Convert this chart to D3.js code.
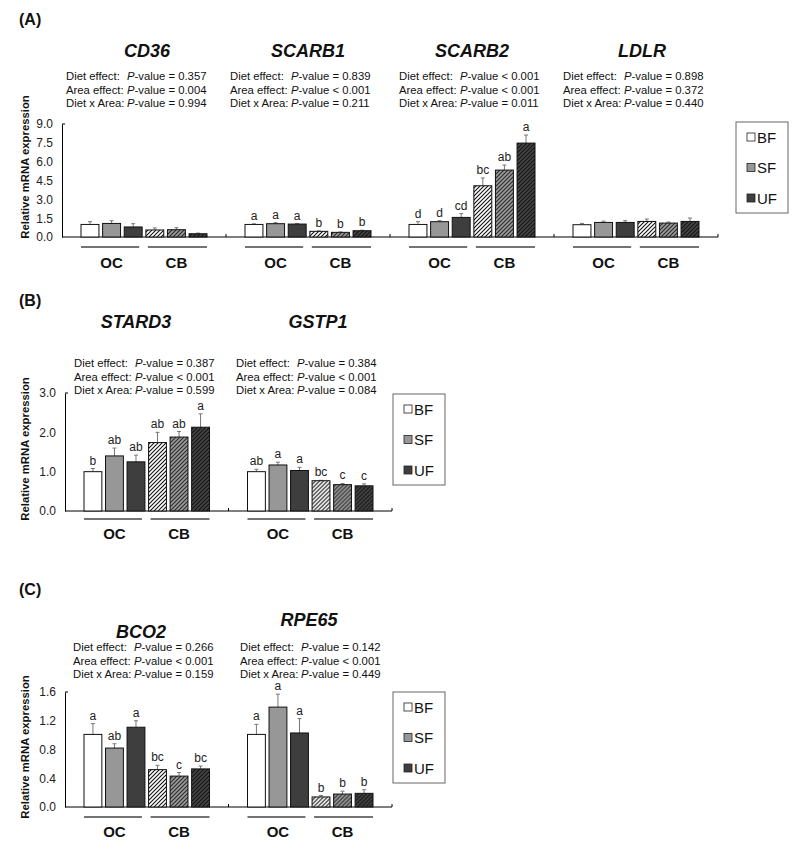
<!DOCTYPE html>
<html><head><meta charset="utf-8">
<script src="https://cdn.jsdelivr.net/npm/d3@7"></script>
<style>
html,body{margin:0;padding:0;background:#fff;}
text{font-family:"Liberation Sans",Arial,sans-serif;}
</style></head>
<body>
<svg id="chart" width="800" height="850"></svg>
<script>
// ---------- DATA ----------
const diets = ["BF","SF","UF"];
const areas = ["OC","CB"];
const effectLabels = ["Diet effect:","Area effect:","Diet x Area:"];

const genesA = ["CD36","SCARB1","SCARB2","LDLR"];
const meansA = [[1.00,1.08,0.80,0.56,0.58,0.26],[1.00,1.06,1.03,0.45,0.37,0.50],[1.00,1.22,1.56,4.08,5.33,7.48],[0.98,1.16,1.16,1.24,1.11,1.24]];
const errsA = [[0.22,0.22,0.26,0.16,0.16,0.05],[0.05,0.08,0.04,0.04,0.03,0.04],[0.22,0.08,0.30,0.62,0.40,0.64],[0.10,0.10,0.14,0.19,0.08,0.27]];
const lettersA = [["","","","","",""],["a","a","a","b","b","b"],["d","d","cd","bc","ab","a"],["","","","","",""]];
const pvalsA = [["= 0.357","= 0.004","= 0.994"],["= 0.839","< 0.001","= 0.211"],["< 0.001","< 0.001","= 0.011"],["= 0.898","= 0.372","= 0.440"]];
const ticksA = [0,1.5,3,4.5,6,7.5,9];

const genesB = ["STARD3","GSTP1"];
const meansB = [[1.00,1.40,1.25,1.74,1.88,2.13],[1.00,1.17,1.03,0.77,0.67,0.64]];
const errsB = [[0.08,0.20,0.17,0.26,0.14,0.34],[0.06,0.07,0.08,0.01,0.03,0.05]];
const lettersB = [["b","ab","ab","ab","ab","a"],["ab","a","a","bc","c","c"]];
const pvalsB = [["= 0.387","< 0.001","= 0.599"],["= 0.384","< 0.001","= 0.084"]];
const ticksB = [0,1,2,3];

const genesC = ["BCO2","RPE65"];
const meansC = [[1.01,0.82,1.11,0.52,0.43,0.53],[1.01,1.39,1.03,0.14,0.18,0.19]];
const errsC = [[0.15,0.06,0.09,0.06,0.05,0.04],[0.14,0.18,0.20,0.02,0.04,0.05]];
const lettersC = [["a","ab","a","bc","c","bc"],["a","a","a","b","b","b"]];
const pvalsC = [["= 0.266","< 0.001","= 0.159"],["= 0.142","< 0.001","= 0.449"]];
const ticksC = [0,0.4,0.8,1.2,1.6];

// ---------- DRAWING ----------
const svg = d3.select("#chart");
const defs = svg.append("defs");
const solid = {BF:"#ffffff", SF:"#979797", UF:"#3e3e3e"};
const hatchBg = {BF:"#ffffff", SF:"#9a9a9a", UF:"#454545"};
const hatchLn = {BF:"#111", SF:"#2a2a2a", UF:"#111"};
diets.forEach(d=>{
  const p = defs.append("pattern").attr("id","h"+d).attr("patternUnits","userSpaceOnUse")
    .attr("width",4).attr("height",4);
  p.append("rect").attr("width",4).attr("height",4).attr("fill",hatchBg[d]);
  p.append("path").attr("d","M-1,1 l2,-2 M0,4 l4,-4 M3,5 l2,-2")
    .attr("stroke",hatchLn[d]).attr("stroke-width",1.1);
});

const bars = [];
areas.forEach(a=>diets.forEach(d=>bars.push({area:a,diet:d})));

function panel(cfg){
  const {genes,means,errs,letters,pvals,ticks,x0,catW,yBase,yTop,titles,pText,pBase,underY,labY,yLabelCenter,legend} = cfg;
  const g = svg.append("g");
  const xOuter = d3.scaleBand().domain(genes).range([x0, x0+catW*genes.length]).padding(0);
  const xInner = d3.scaleBand().domain(d3.range(6)).range([19, catW-19]).paddingInner(0.17).paddingOuter(0);
  const y = d3.scaleLinear().domain([0, ticks[ticks.length-1]]).range([yBase, yTop]);

  // y axis
  const ya = g.append("g").attr("transform",`translate(${x0},0)`)
    .call(d3.axisLeft(y).tickValues(ticks).tickFormat(d3.format(".1f")).tickSize(0).tickPadding(9));
  ya.select(".domain").attr("stroke","#000").attr("stroke-width",1);
  ya.selectAll("text").attr("font-size",12).attr("fill","#222");
  g.append("line").attr("x1",x0).attr("x2",x0+3).attr("y1",yTop).attr("y2",yTop).attr("stroke","#000");

  // x axis
  const xEnd = x0+catW*genes.length;
  g.append("line").attr("x1",x0).attr("x2",xEnd).attr("y1",yBase).attr("y2",yBase).attr("stroke","#000").attr("stroke-width",1.2);
  genes.forEach((gn,i)=>{ if(i>0){
    const xx = xOuter(gn);
    g.append("line").attr("x1",xx).attr("x2",xx).attr("y1",yBase).attr("y2",yBase-3).attr("stroke","#000");
  }});
  g.append("line").attr("x1",xEnd).attr("x2",xEnd).attr("y1",yBase).attr("y2",yBase-3).attr("stroke","#000");

  // y label
  g.append("text").attr("transform",`translate(29,${yLabelCenter}) rotate(-90)`)
    .attr("text-anchor","middle").attr("font-size",11.3).attr("font-weight","bold").attr("fill","#111")
    .text("Relative mRNA expression");

  genes.forEach((gn,gi)=>{
    const gx = xOuter(gn);
    const gg = g.append("g").attr("transform",`translate(${gx},0)`);
    // title
    g.append("text").attr("x",titles[gi][0]).attr("y",titles[gi][1]).attr("text-anchor","middle")
      .attr("font-size",18).attr("font-weight","bold").attr("font-style","italic").attr("fill","#111").text(gn);
    // p-values
    const px = pText[gi];
    effectLabels.forEach((lab,li)=>{
      const yy = pBase + li*13.5;
      g.append("text").attr("x",px).attr("y",yy).attr("font-size",11.3).attr("fill","#111")
        .style("white-space","pre").text(lab);
      const t = g.append("text").attr("x",px+61).attr("y",yy).attr("font-size",11.3).attr("fill","#111").style("white-space","pre");
      t.append("tspan").attr("font-style","italic").text("P");
      t.append("tspan").text("-value " + pvals[gi][li]);
    });
    // bars
    bars.forEach((b,bi)=>{
      const bx = xInner(bi), bw = xInner.bandwidth();
      const m = means[gi][bi], e = errs[gi][bi];
      const cx = bx + bw/2;
      // error bar
      gg.append("line").attr("x1",cx).attr("x2",cx).attr("y1",y(m)).attr("y2",y(m+e)).attr("stroke","#777").attr("stroke-width",1);
      gg.append("line").attr("x1",cx-2).attr("x2",cx+2).attr("y1",y(m+e)).attr("y2",y(m+e)).attr("stroke","#777").attr("stroke-width",1);
      gg.append("rect").attr("x",bx).attr("y",y(m)).attr("width",bw).attr("height",yBase-y(m))
        .attr("fill", b.area==="OC" ? solid[b.diet] : `url(#h${b.diet})`)
        .attr("stroke","#111").attr("stroke-width",1);
      const L = letters[gi][bi];
      if(L){
        gg.append("text").attr("x",cx).attr("y",y(m+e)-4).attr("text-anchor","middle")
          .attr("font-size",12).attr("fill","#222").text(L);
      }
    });
    // area underlines & labels
    areas.forEach((a,ai)=>{
      const xa = xInner(ai*3), xb = xInner(ai*3+2)+xInner.bandwidth();
      gg.append("line").attr("x1",xa+(ai?2:0)).attr("x2",xb-(ai?0:3)).attr("y1",underY).attr("y2",underY)
        .attr("stroke","#444").attr("stroke-width",1.4);
      gg.append("text").attr("x",(xa+xb)/2).attr("y",labY).attr("text-anchor","middle")
        .attr("font-size",15).attr("font-weight","bold").attr("fill","#111").text(a);
    });
  });

  // legend
  const lg = g.append("g");
  lg.append("rect").attr("x",legend.x).attr("y",legend.y).attr("width",52).attr("height",91)
    .attr("fill","#fff").attr("stroke","#666").attr("stroke-width",1);
  diets.forEach((d,i)=>{
    const cy = legend.y + 15 + i*30.5;
    lg.append("rect").attr("x",legend.x+11).attr("y",cy-4).attr("width",8).attr("height",8)
      .attr("fill",solid[d]).attr("stroke","#222").attr("stroke-width",0.8);
    lg.append("text").attr("x",legend.x+21).attr("y",cy+5.5).attr("font-size",15).attr("fill","#111").text(d);
  });
}

// section labels
[["(A)",25],["(B)",306],["(C)",595]].forEach(([t,yy])=>{
  svg.append("text").attr("x",19).attr("y",yy).attr("font-size",16).attr("font-weight","bold").attr("fill","#111").text(t);
});

panel({genes:genesA,means:meansA,errs:errsA,letters:lettersA,pvals:pvalsA,ticks:ticksA,
  x0:62,catW:164,yBase:237,yTop:124,
  titles:[[147,57],[308,57],[472,57],[642,57]],
  pText:[66,230,399,563],pBase:80,underY:247,labY:268,yLabelCenter:167,
  legend:{x:736,y:122}});

panel({genes:genesB,means:meansB,errs:errsB,letters:lettersB,pvals:pvalsB,ticks:ticksB,
  x0:65,catW:163.5,yBase:511,yTop:393,
  titles:[[136,328],[318,328]],
  pText:[74,236],pBase:367,underY:519,labY:539,yLabelCenter:449,
  legend:{x:393,y:394}});

panel({genes:genesC,means:meansC,errs:errsC,letters:lettersC,pvals:pvalsC,ticks:ticksC,
  x0:65,catW:163.5,yBase:807,yTop:692,
  titles:[[141,638],[309,626]],
  pText:[73,240],pBase:651,underY:817,labY:837,yLabelCenter:747,
  legend:{x:393,y:692}});
</script>
</body></html>
